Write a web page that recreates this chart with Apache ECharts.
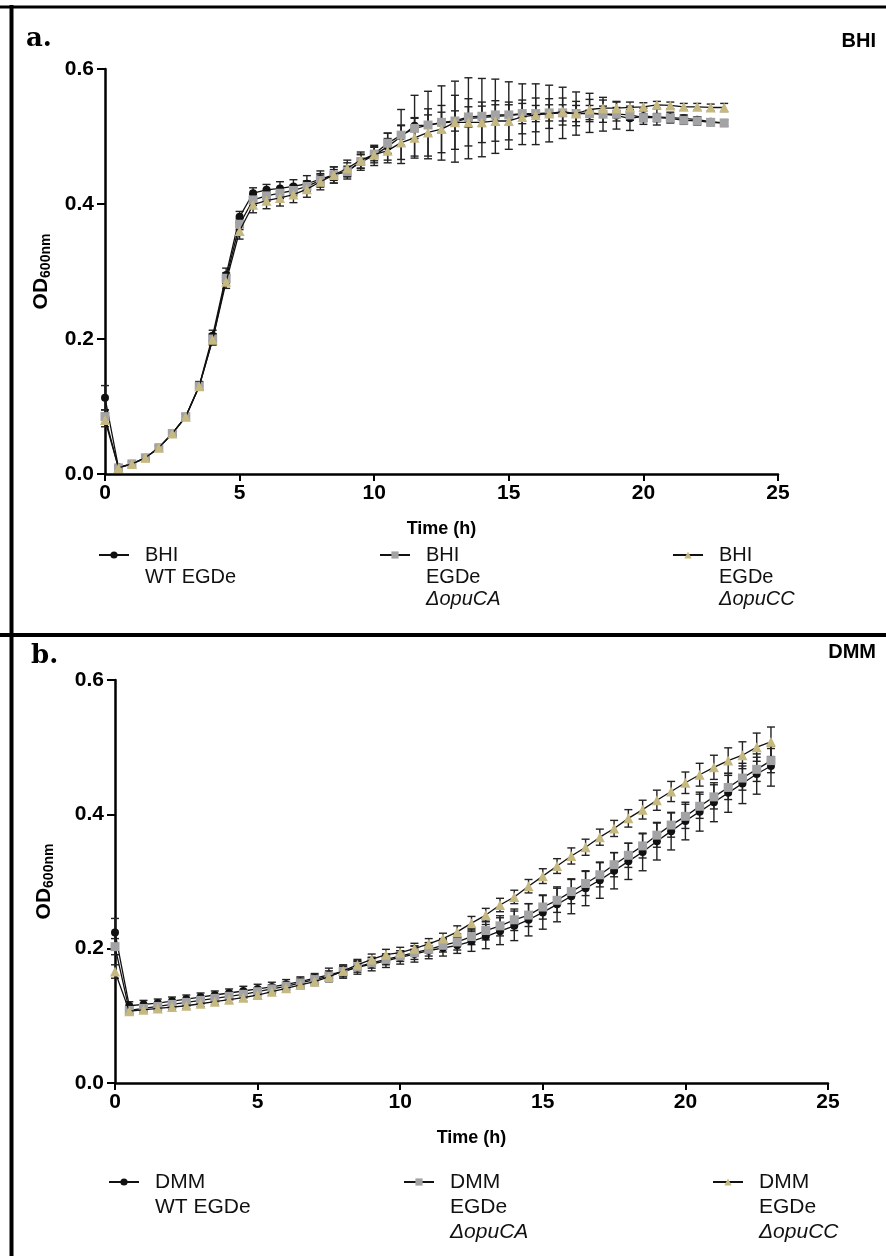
<!DOCTYPE html>
<html>
<head>
<meta charset="UTF-8">
<title>OD600 growth curves</title>
<script src="https://cdn.jsdelivr.net/npm/echarts@6/dist/echarts.min.js"></script>
<style>
  html, body { margin: 0; padding: 0; background: #fff; }
  #main { width: 886px; height: 1256px; }
</style>
</head>
<body>
<div id="main"></div>
<script>
// sampling times (h)
var times = [0, 0.5, 1, 1.5, 2, 2.5, 3, 3.5, 4, 4.5, 5, 5.5, 6, 6.5, 7, 7.5, 8, 8.5, 9, 9.5,
  10, 10.5, 11, 11.5, 12, 12.5, 13, 13.5, 14, 14.5, 15, 15.5, 16, 16.5, 17, 17.5, 18, 18.5,
  19, 19.5, 20, 20.5, 21, 21.5, 22, 22.5, 23];
var xTicks = [0, 5, 10, 15, 20, 25];
var yTicks = [0.0, 0.2, 0.4, 0.6];

// panel a - BHI
var bhiWT = [0.113, 0.010, 0.015, 0.024, 0.039, 0.060, 0.085, 0.131, 0.205, 0.295, 0.381, 0.416, 0.421, 0.423, 0.426, 0.430,
  0.437, 0.443, 0.449, 0.462, 0.472, 0.485, 0.500, 0.516, 0.517, 0.520, 0.522, 0.527, 0.528, 0.530, 0.531, 0.533,
  0.533, 0.534, 0.535, 0.534, 0.535, 0.533, 0.531, 0.527, 0.530, 0.529, 0.528, 0.527, 0.525, 0.522, 0.520];
var bhiWTsd = [0.018, 0.003, 0.003, 0.003, 0.003, 0.003, 0.004, 0.006, 0.008, 0.010, 0.008, 0.008, 0.008, 0.010, 0.010, 0.012,
  0.012, 0.012, 0.012, 0.012, 0.015, 0.020, 0.040, 0.045, 0.050, 0.055, 0.060, 0.060, 0.058, 0.055, 0.050, 0.045,
  0.045, 0.042, 0.038, 0.032, 0.029, 0.025, 0.020, 0.018, 0.012, 0.012, 0.008, 0.005, 0.004, 0.004, 0.004];
var bhiCA = [0.085, 0.009, 0.015, 0.024, 0.039, 0.060, 0.085, 0.130, 0.200, 0.290, 0.370, 0.406, 0.412, 0.416, 0.420, 0.426,
  0.435, 0.443, 0.448, 0.463, 0.474, 0.490, 0.502, 0.512, 0.517, 0.521, 0.523, 0.529, 0.530, 0.532, 0.532, 0.534,
  0.534, 0.535, 0.535, 0.534, 0.534, 0.533, 0.533, 0.532, 0.528, 0.528, 0.527, 0.524, 0.523, 0.521, 0.520];
var bhiCAsd = [0.010, 0.003, 0.003, 0.003, 0.003, 0.003, 0.004, 0.006, 0.008, 0.008, 0.008, 0.008, 0.008, 0.008, 0.008, 0.008,
  0.008, 0.008, 0.008, 0.010, 0.010, 0.015, 0.015, 0.015, 0.015, 0.015, 0.015, 0.015, 0.015, 0.015, 0.015, 0.015,
  0.012, 0.012, 0.012, 0.012, 0.012, 0.012, 0.010, 0.008, 0.006, 0.006, 0.006, 0.006, 0.006, 0.005, 0.005];
var bhiCC = [0.080, 0.009, 0.015, 0.024, 0.039, 0.060, 0.085, 0.130, 0.199, 0.285, 0.360, 0.399, 0.405, 0.409, 0.414, 0.422,
  0.433, 0.443, 0.453, 0.465, 0.473, 0.479, 0.491, 0.498, 0.506, 0.511, 0.521, 0.521, 0.521, 0.523, 0.523, 0.529,
  0.532, 0.534, 0.537, 0.534, 0.540, 0.542, 0.542, 0.543, 0.544, 0.547, 0.546, 0.544, 0.544, 0.543, 0.543];
var bhiCCsd = [0.010, 0.003, 0.003, 0.003, 0.003, 0.003, 0.004, 0.006, 0.008, 0.010, 0.012, 0.012, 0.012, 0.012, 0.012, 0.012,
  0.012, 0.012, 0.012, 0.012, 0.012, 0.018, 0.025, 0.030, 0.035, 0.035, 0.040, 0.035, 0.030, 0.030, 0.028, 0.025,
  0.025, 0.022, 0.020, 0.018, 0.015, 0.012, 0.010, 0.008, 0.006, 0.005, 0.005, 0.005, 0.005, 0.005, 0.006];

// panel b - DMM
var dmmWT = [0.224, 0.115, 0.117, 0.119, 0.122, 0.125, 0.128, 0.131, 0.134, 0.137, 0.140, 0.143, 0.147, 0.151, 0.156, 0.161,
  0.166, 0.172, 0.177, 0.182, 0.187, 0.192, 0.197, 0.201, 0.205, 0.211, 0.218, 0.226, 0.234, 0.243, 0.254, 0.266,
  0.278, 0.290, 0.302, 0.316, 0.330, 0.344, 0.360, 0.375, 0.390, 0.404, 0.418, 0.432, 0.446, 0.460, 0.472];
var dmmWTsd = [0.021, 0.006, 0.006, 0.006, 0.006, 0.006, 0.006, 0.006, 0.006, 0.007, 0.007, 0.007, 0.007, 0.007, 0.007, 0.010,
  0.010, 0.010, 0.010, 0.010, 0.010, 0.012, 0.012, 0.012, 0.012, 0.015, 0.018, 0.020, 0.022, 0.024, 0.025, 0.026,
  0.026, 0.026, 0.027, 0.027, 0.027, 0.028, 0.028, 0.028, 0.028, 0.029, 0.029, 0.029, 0.030, 0.030, 0.030];
var dmmCA = [0.203, 0.108, 0.111, 0.114, 0.117, 0.120, 0.123, 0.126, 0.129, 0.132, 0.136, 0.140, 0.144, 0.149, 0.154, 0.159,
  0.166, 0.173, 0.179, 0.184, 0.189, 0.194, 0.199, 0.205, 0.210, 0.218, 0.227, 0.234, 0.243, 0.250, 0.262, 0.272,
  0.285, 0.297, 0.310, 0.325, 0.339, 0.353, 0.369, 0.384, 0.397, 0.412, 0.426, 0.440, 0.454, 0.467, 0.480];
var dmmCAsd = [0.012, 0.005, 0.005, 0.005, 0.005, 0.005, 0.005, 0.005, 0.006, 0.006, 0.006, 0.006, 0.006, 0.007, 0.007, 0.008,
  0.008, 0.008, 0.008, 0.008, 0.008, 0.010, 0.010, 0.010, 0.012, 0.012, 0.014, 0.015, 0.016, 0.017, 0.018, 0.018,
  0.018, 0.018, 0.018, 0.018, 0.018, 0.018, 0.018, 0.018, 0.018, 0.018, 0.018, 0.018, 0.018, 0.018, 0.018];
var dmmCC = [0.166, 0.107, 0.109, 0.111, 0.113, 0.115, 0.118, 0.121, 0.124, 0.127, 0.131, 0.136, 0.141, 0.146, 0.151, 0.158,
  0.167, 0.176, 0.184, 0.191, 0.194, 0.200, 0.207, 0.215, 0.225, 0.238, 0.250, 0.265, 0.277, 0.293, 0.308, 0.323,
  0.338, 0.351, 0.366, 0.379, 0.394, 0.407, 0.421, 0.434, 0.447, 0.459, 0.470, 0.480, 0.488, 0.500, 0.508];
var dmmCCsd = [0.010, 0.004, 0.004, 0.004, 0.004, 0.004, 0.004, 0.004, 0.005, 0.005, 0.005, 0.005, 0.005, 0.006, 0.006, 0.006,
  0.007, 0.008, 0.008, 0.008, 0.008, 0.008, 0.008, 0.008, 0.009, 0.010, 0.010, 0.010, 0.010, 0.010, 0.011, 0.011,
  0.012, 0.012, 0.012, 0.012, 0.013, 0.014, 0.015, 0.015, 0.016, 0.017, 0.018, 0.019, 0.020, 0.021, 0.022];

var legendText = {
  'BHI WT': '{t|BHI}\n{t|WT EGDe}',
  'BHI CA': '{t|BHI}\n{t|EGDe}\n{i|\u0394opuCA}',
  'BHI CC': '{t|BHI}\n{t|EGDe}\n{i|\u0394opuCC}',
  'DMM WT': '{t|DMM}\n{t|WT EGDe}',
  'DMM CA': '{t|DMM}\n{t|EGDe}\n{i|\u0394opuCA}',
  'DMM CC': '{t|DMM}\n{t|EGDe}\n{i|\u0394opuCC}'
};

var FONT = 'Arial, "Liberation Sans", sans-serif';
var myChart = echarts.init(document.getElementById('main'));

function pts(vals) {
  return times.map(function (t, i) { return [t, vals[i]]; });
}
function bars(vals, sd) {
  return times.map(function (t, i) { return [t, vals[i] - sd[i], vals[i] + sd[i]]; });
}
function renderErr(params, api) {
  var x = api.value(0);
  var lo = api.coord([x, api.value(1)]);
  var hi = api.coord([x, api.value(2)]);
  var w = 4;
  var st = { stroke: '#222', lineWidth: 1.4 };
  return {
    type: 'group',
    children: [
      { type: 'line', shape: { x1: lo[0], y1: lo[1], x2: hi[0], y2: hi[1] }, style: st },
      { type: 'line', shape: { x1: lo[0] - w, y1: lo[1], x2: lo[0] + w, y2: lo[1] }, style: st },
      { type: 'line', shape: { x1: hi[0] - w, y1: hi[1], x2: hi[0] + w, y2: hi[1] }, style: st }
    ]
  };
}

var marks = {
  WT: { symbol: 'circle', size: 8, color: '#111111' },
  CA: { symbol: 'rect', size: 9, color: '#a3a3a6' },
  CC: { symbol: 'triangle', size: 10, color: '#c5b880' }
};

var series = [];
function addStrain(name, key, idx, vals, sd, z) {
  series.push({
    type: 'custom', name: name + ' err', xAxisIndex: idx, yAxisIndex: idx,
    renderItem: renderErr, encode: { x: 0, y: [1, 2] },
    data: bars(vals, sd), z: 1, silent: true
  });
  series.push({
    type: 'line', name: name, xAxisIndex: idx, yAxisIndex: idx,
    data: pts(vals), symbol: marks[key].symbol, symbolSize: marks[key].size,
    showAllSymbol: true,
    itemStyle: { color: marks[key].color },
    lineStyle: { color: '#111', width: 1.3 },
    z: z
  });
}
addStrain('BHI WT', 'WT', 0, bhiWT, bhiWTsd, 3);
addStrain('BHI CA', 'CA', 0, bhiCA, bhiCAsd, 4);
addStrain('BHI CC', 'CC', 0, bhiCC, bhiCCsd, 5);
addStrain('DMM WT', 'WT', 1, dmmWT, dmmWTsd, 3);
addStrain('DMM CA', 'CA', 1, dmmCA, dmmCAsd, 4);
addStrain('DMM CC', 'CC', 1, dmmCC, dmmCCsd, 5);

function xAx(idx) {
  return {
    type: 'value', gridIndex: idx, min: xTicks[0], max: xTicks[xTicks.length - 1], interval: 5,
    name: 'Time (h)', nameLocation: 'middle', nameGap: 46,
    nameTextStyle: { fontFamily: FONT, fontWeight: 'bold', fontSize: 18, color: '#000' },
    axisLine: { onZero: false, lineStyle: { color: '#000', width: 2.5 } },
    axisTick: { length: 7, lineStyle: { color: '#000', width: 2 } },
    axisLabel: { fontFamily: FONT, fontWeight: 'bold', fontSize: 21, color: '#000', margin: 9 },
    splitLine: { show: false }
  };
}
function yAx(idx, gap) {
  return {
    type: 'value', gridIndex: idx, min: yTicks[0], max: yTicks[yTicks.length - 1], interval: 0.2,
    name: '{a|OD}{b|600nm}', nameLocation: 'middle', nameGap: gap, nameRotate: 90,
    nameTextStyle: {
      color: '#000',
      rich: {
        a: { fontFamily: FONT, fontWeight: 'bold', fontSize: 21, lineHeight: 24 },
        b: { fontFamily: FONT, fontWeight: 'bold', fontSize: 14, lineHeight: 24, verticalAlign: 'bottom', padding: [9, 0, 0, 0] }
      }
    },
    axisLine: { show: true, lineStyle: { color: '#000', width: 2.5 } },
    axisTick: { show: true, length: 8, lineStyle: { color: '#000', width: 2 } },
    axisLabel: {
      fontFamily: FONT, fontWeight: 'bold', fontSize: 21, color: '#000', margin: 11,
      formatter: function (v) { return v.toFixed(1); }
    },
    splitLine: { show: false }
  };
}

// top = centre of first text line; icon sits on the first line
function legendAt(name, left, firstLine, lines, fs, lh) {
  return {
    data: [name], left: left, top: firstLine - lh / 2, orient: 'horizontal',
    selectedMode: false, itemWidth: 30, itemHeight: 9,
    formatter: function (n) { return legendText[n]; },
    textStyle: {
      padding: [(lines - 1) * lh, 0, 0, 0],
      rich: {
        t: { fontFamily: FONT, fontSize: fs, lineHeight: lh, color: '#111', padding: [0, 0, 0, 11] },
        i: { fontFamily: FONT, fontSize: fs, lineHeight: lh, color: '#111', fontStyle: 'italic', padding: [0, 0, 0, 11] }
      }
    }
  };
}

var option = {
  animation: false,
  backgroundColor: '#fff',
  grid: [
    { left: 105, right: 108, top: 69, height: 405 },
    { left: 115, right: 58, top: 680, height: 403 }
  ],
  xAxis: [xAx(0), xAx(1)],
  yAxis: [yAx(0, 52), yAx(1, 59)],
  legend: [
    legendAt('BHI WT', 93, 551, 2, 20, 22),
    legendAt('BHI CA', 374, 551, 3, 20, 22),
    legendAt('BHI CC', 667, 551, 3, 20, 22),
    legendAt('DMM WT', 103, 1179, 2, 21, 25),
    legendAt('DMM CA', 398, 1179, 3, 21, 25),
    legendAt('DMM CC', 707, 1179, 3, 21, 25)
  ],
  graphic: [
    { type: 'line', shape: { x1: 0, y1: 7, x2: 886, y2: 7 }, style: { stroke: '#000', lineWidth: 3 } },
    { type: 'line', shape: { x1: 11.5, y1: 5, x2: 11.5, y2: 1256 }, style: { stroke: '#000', lineWidth: 4 } },
    { type: 'line', shape: { x1: 0, y1: 635, x2: 886, y2: 635 }, style: { stroke: '#000', lineWidth: 4 } },
    { type: 'text', left: 26, top: 26, style: { text: 'a.', font: 'bold 26px "DejaVu Serif", "Liberation Serif", serif', fill: '#000' } },
    { type: 'text', left: 31, top: 643, style: { text: 'b.', font: 'bold 26px "DejaVu Serif", "Liberation Serif", serif', fill: '#000' } },
    { type: 'text', right: 10, top: 31, style: { text: 'BHI', font: 'bold 20px ' + FONT, fill: '#000' } },
    { type: 'text', right: 10, top: 642, style: { text: 'DMM', font: 'bold 20px ' + FONT, fill: '#000' } }
  ],
  series: series
};
myChart.setOption(option);
</script>
</body>
</html>
